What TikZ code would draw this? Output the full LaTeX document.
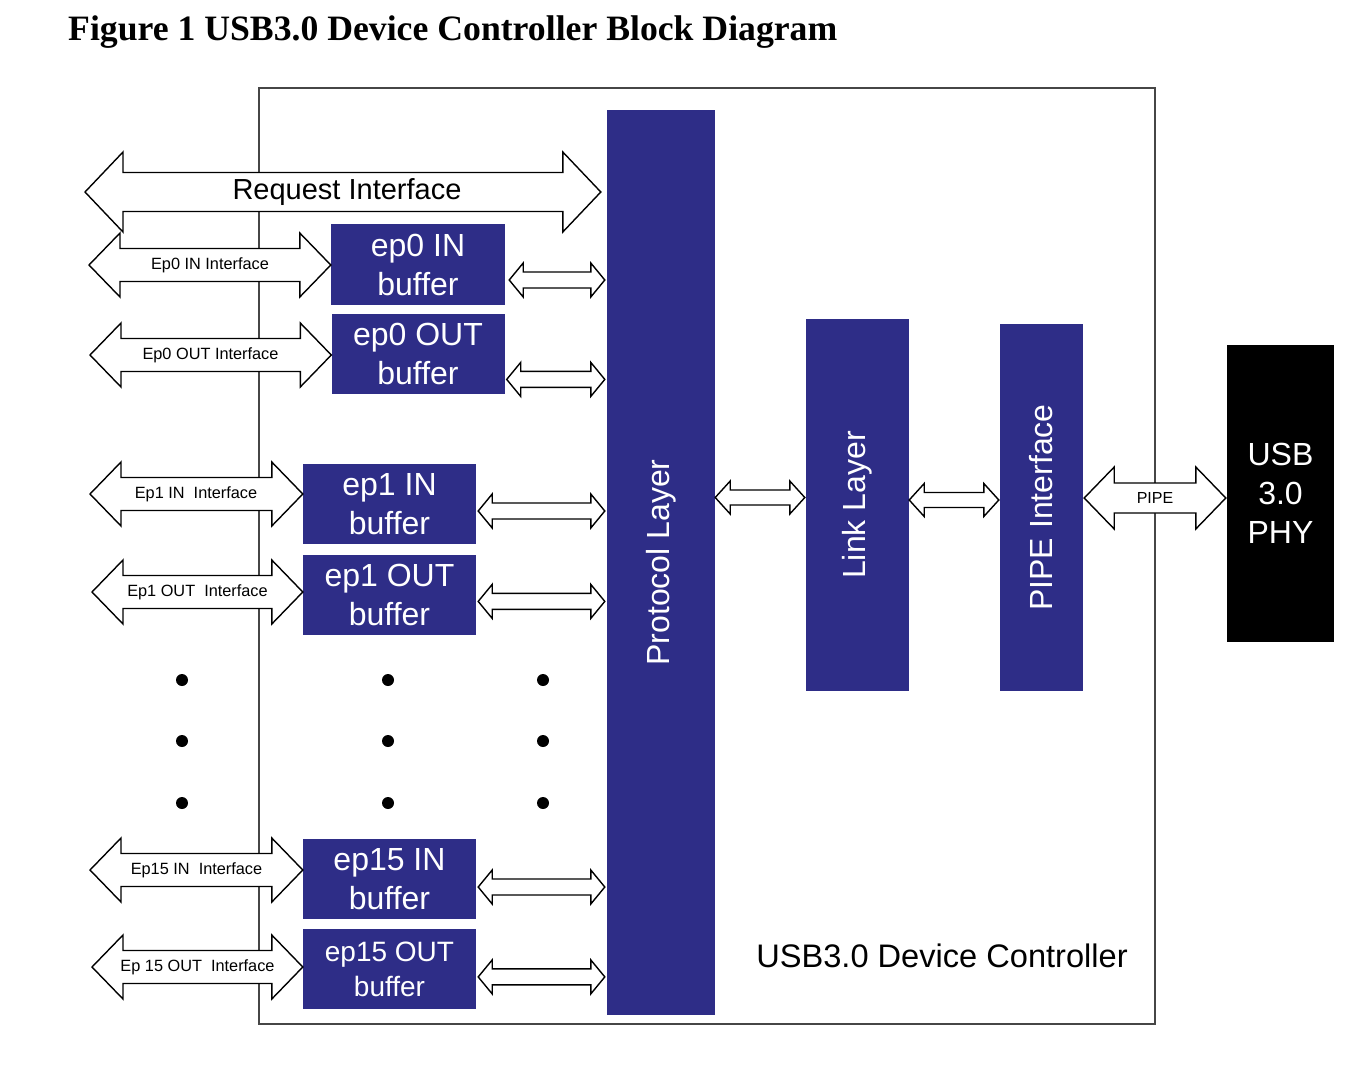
\documentclass[tikz,border=0pt]{standalone}
\usepackage{fontspec}
\setmainfont{Liberation Serif}
\setsansfont{Liberation Sans}
\usepackage{graphicx}
\usepackage{tikz}
\usetikzlibrary{positioning, calc}
\definecolor{usbblue}{RGB}{46,45,135}
\definecolor{boxgray}{RGB}{70,70,70}
\tikzset{%
  block/.style={rectangle, fill=usbblue, text=white, inner sep=0pt, align=center,
    font=\sffamily\fontsize{32}{39}\selectfont},
  bufbox/.style={block, minimum width=173pt, minimum height=80pt},
  layerbox/.style={block, minimum height=372pt},
  ctrlframe/.style={draw=boxgray, line width=1.5pt, inner sep=0pt},
  dblarr/.style={draw=black, fill=white, line width=1.4pt, line join=miter},
  iflabel/.style={font=\sffamily\fontsize{16.3}{18}\selectfont, inner sep=0pt},
  bigtext/.style={font=\sffamily\fontsize{32.6}{39}\selectfont, inner sep=0pt},
  epdot/.style={circle, fill=black, minimum size=12pt, inner sep=0pt},
}
\newcommand{\dblarrow}[6][]{%
  \draw[dblarr,#1] let \p1=(#2), \p2=(#3) in
    (\x1,\y1) -- (\x1+#6pt,\y1+#5pt) -- (\x1+#6pt,\y1+#4pt) -- (\x2-#6pt,\y1+#4pt)
    -- (\x2-#6pt,\y1+#5pt) -- (\x2,\y1) -- (\x2-#6pt,\y1-#5pt) -- (\x2-#6pt,\y1-#4pt)
    -- (\x1+#6pt,\y1-#4pt) -- (\x1+#6pt,\y1-#5pt) -- cycle;
}

\begin{document}
\begin{tikzpicture}[x=1pt, y=-1pt]
  \useasboundingbox (0,0) rectangle (1370,1066);

  \node[anchor=base west, inner sep=0pt, font=\bfseries\fontsize{35.7}{40}\selectfont] (title) at (68,40)
    {Figure 1 USB3.0 Device Controller Block Diagram};

  \node[ctrlframe, minimum width=896pt, minimum height=936pt] (ctrl) at (707,556) {};
  \node[bigtext, anchor=base] (ctrlname) at (942,967) {USB3.0 Device Controller};

  \node[block, minimum width=108pt, minimum height=905pt] (proto) at (661,562.5) {\rotatebox{90}{Protocol Layer}};
  \node[layerbox, minimum width=103pt] (link) at (857.5,505) {\rotatebox{90}{Link Layer}};
  \node[layerbox, minimum width=83pt, minimum height=367pt] (pipe) at (1041.5,507.5) {\rotatebox{90}{PIPE Interface}};
  \node[block, fill=black, minimum width=107pt, minimum height=297pt] (phy) at (1280.5,493.5) {USB\\3.0\\PHY};

  \node[bufbox, minimum width=174pt, minimum height=81pt] (ep0in) at (418,264.5) {ep0 IN\\buffer};
  \node[bufbox, below=9pt of ep0in] (ep0out) {ep0 OUT\\buffer};
  \node[bufbox] (ep1in) at (389.5,504) {ep1 IN\\buffer};
  \node[bufbox, below=11pt of ep1in] (ep1out) {ep1 OUT\\buffer};
  \node[bufbox] (ep15in) at (389.5,879) {ep15 IN\\buffer};
  \node[bufbox, below=10pt of ep15in, font=\sffamily\fontsize{28}{35}\selectfont] (ep15out) {ep15 OUT\\buffer};

  \foreach \col in {182,388,543} {
    \foreach \row in {680,741,803} {
      \node[epdot] (dot-\col-\row) at (\col,\row) {};
    }
  }

  \coordinate (req-l) at (85,192);
  \coordinate (ep0in-l) at (89,265);
  \coordinate (ep0out-l) at (90,355);
  \coordinate (ep1in-l) at (90,494);
  \coordinate (ep1out-l) at (92,592);
  \coordinate (ep15in-l) at (90,870);
  \coordinate (ep15out-l) at (92,967);

  \dblarrow{req-l}{[xshift=-6pt]proto.west}{19.5}{40}{38}
  \dblarrow{ep0in-l}{ep0in.west}{16.5}{32}{31}
  \dblarrow{ep0out-l}{ep0out.west}{16.5}{32}{31}
  \dblarrow{ep1in-l}{ep1in.west}{16.5}{32}{31}
  \dblarrow{ep1out-l}{ep1out.west}{16.5}{32}{31}
  \dblarrow{ep15in-l}{ep15in.west}{16.5}{32}{31}
  \dblarrow{ep15out-l}{ep15out.west}{16.5}{32}{31}

  \dblarrow{[xshift=4pt,yshift=-15.5pt]ep0in.east}{[xshift=-2pt]proto.west}{8}{17}{14}
  \dblarrow{[xshift=2pt,yshift=-25pt]ep0out.east}{[xshift=-2pt]proto.west}{8}{17}{14}
  \dblarrow{[xshift=2pt,yshift=-7pt]ep1in.east}{[xshift=-2pt]proto.west}{8}{17}{14}
  \dblarrow{[xshift=2pt,yshift=-6pt]ep1out.east}{[xshift=-2pt]proto.west}{8}{17}{14}
  \dblarrow{[xshift=2pt,yshift=-8pt]ep15in.east}{[xshift=-2pt]proto.west}{8}{17}{14}
  \dblarrow{[xshift=2pt,yshift=-7.5pt]ep15out.east}{[xshift=-2pt]proto.west}{8}{17}{14}

  \dblarrow{[yshift=65pt]proto.east}{[xshift=-1pt]link.west}{7.5}{16.5}{15}
  \dblarrow{[yshift=5pt]link.east}{[xshift=-1pt]pipe.west}{7.5}{16.5}{15}
  \dblarrow{[xshift=1pt,yshift=9.5pt]pipe.east}{[xshift=-1pt]phy.west}{15}{31}{30}

  \node[iflabel, font=\sffamily\fontsize{29}{32}\selectfont] (req-t) at (347,192) {Request Interface};
  \node[iflabel] (ep0in-t) at (210,265) {Ep0 IN Interface};
  \node[iflabel] (ep0out-t) at (210.5,355) {Ep0 OUT Interface};
  \node[iflabel] (ep1in-t) at (196,494) {Ep1 IN~ Interface};
  \node[iflabel] (ep1out-t) at (197.5,592) {Ep1 OUT~ Interface};
  \node[iflabel] (ep15in-t) at (196.5,870) {Ep15 IN~ Interface};
  \node[iflabel] (ep15out-t) at (197.5,967) {Ep 15 OUT~ Interface};
  \node[iflabel, font=\sffamily\fontsize{16}{18}\selectfont] (pipe-t) at (1155,498) {PIPE};
\end{tikzpicture}
\end{document}
